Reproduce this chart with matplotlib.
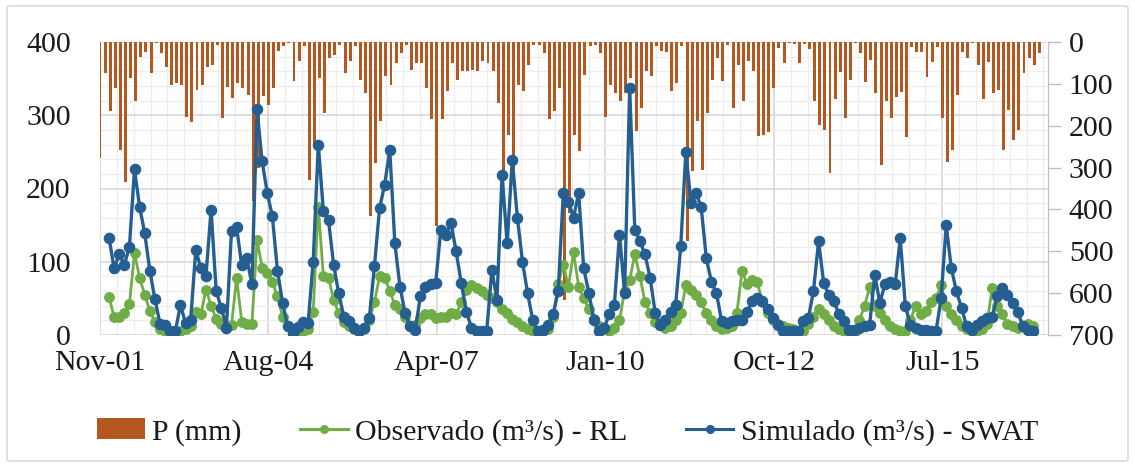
import matplotlib
matplotlib.use('Agg')
import matplotlib.pyplot as plt
import numpy as np
from matplotlib.patches import Rectangle, FancyBboxPatch
from matplotlib.lines import Line2D

plt.rcParams['font.family'] = ['Liberation Serif', 'DejaVu Serif']

# ---------------- data ----------------
x_labels = ['Nov-01', 'Aug-04', 'Apr-07', 'Jan-10', 'Oct-12', 'Jul-15']

sim = [133, 91, 110, 96, 120, 226, 175, 139, 88, 49,
       15, 13, 5, 5, 41, 16, 21, 116, 91, 81,
       171, 60, 37, 10, 142, 147, 95, 105, 69, 308,
       237, 194, 162, 88, 44, 12, 3, 11, 18, 16,
       100, 260, 169, 157, 96, 57, 25, 19, 10, 5,
       10, 23, 94, 173, 205, 253, 125, 66, 30, 12,
       7, 53, 66, 69, 71, 144, 137, 153, 114, 71,
       32, 10, 5, 5, 6, 89, 48, 219, 125, 239,
       160, 100, 57, 21, 5, 7, 14, 28, 60, 194,
       182, 160, 194, 91, 57, 21, 5, 10, 28, 41,
       137, 57, 337, 144, 128, 110, 78, 30, 14, 21,
       32, 41, 121, 250, 180, 194, 175, 105, 73, 57,
       19, 16, 19, 21, 21, 32, 46, 50, 46, 35,
       23, 14, 5, 5, 5, 5, 19, 23, 60, 128,
       71, 55, 46, 28, 19, 7, 7, 10, 12, 14,
       82, 44, 69, 73, 69, 132, 39, 14, 10, 7,
       7, 5, 5, 50, 150, 91, 60, 37, 12, 7,
       14, 19, 23, 25, 53, 64, 55, 44, 32, 12,
       7, 5]

obs = [52, 25, 24, 30, 42, 112, 78, 55, 33, 18,
       8, 5, 3, 2, 5, 8, 12, 32, 28, 62,
       40, 22, 15, 12, 14, 78, 18, 15, 15, 130,
       92, 84, 72, 53, 25, 12, 8, 6, 5, 8,
       32, 175, 80, 78, 48, 30, 18, 12, 8, 6,
       8, 20, 45, 80, 78, 60, 41, 35, 25, 12,
       14, 23, 28, 28, 23, 25, 25, 30, 28, 45,
       62, 68, 64, 60, 55, 50, 45, 35, 30, 22,
       18, 12, 8, 5, 3, 5, 8, 25, 70, 96,
       66, 113, 66, 50, 35, 22, 12, 8, 5, 10,
       20, 60, 75, 110, 80, 45, 30, 18, 13, 10,
       12, 20, 30, 68, 62, 55, 45, 30, 20, 12,
       8, 10, 12, 30, 87, 70, 75, 72, 45, 30,
       20, 15, 12, 10, 8, 5, 5, 15, 25, 35,
       28, 20, 12, 8, 5, 3, 2, 20, 40, 65,
       40, 30, 20, 12, 8, 5, 5, 20, 40, 28,
       33, 45, 50, 68, 40, 28, 20, 12, 8, 5,
       5, 8, 15, 64, 40, 28, 15, 12, 10, 12,
       15, 12]

precip = [278, 75, 166, 111, 258, 334, 87, 142, 35, 23,
          75, 3, 27, 59, 103, 99, 103, 178, 190, 115,
          103, 59, 55, 7, 182, 107, 134, 99, 110, 126,
          380, 300, 130, 150, 110, 22, 10, 3, 94, 46,
          10, 329, 245, 86, 170, 38, 30, 6, 74, 46,
          10, 90, 122, 416, 289, 189, 82, 102, 50, 26,
          6, 66, 50, 50, 110, 185, 440, 185, 118, 50,
          90, 70, 70, 66, 70, 46, 50, 70, 146, 305,
          221, 305, 102, 118, 54, 6, 6, 26, 185, 165,
          110, 616, 409, 221, 261, 78, 10, 6, 26, 178,
          102, 122, 142, 122, 86, 213, 158, 70, 82, 10,
          22, 25, 118, 98, 10, 476, 309, 189, 305, 170,
          90, 38, 94, 6, 158, 54, 142, 46, 70, 225,
          222, 214, 111, 15, 51, 3, 5, 51, 5, 17,
          142, 198, 210, 314, 135, 71, 182, 91, 3, 27,
          95, 43, 123, 294, 142, 182, 131, 119, 226, 11,
          23, 23, 83, 47, 11, 182, 286, 258, 127, 23,
          39, 3, 55, 135, 47, 123, 115, 258, 162, 234,
          210, 75, 39, 55, 27]

# ---------------- layout ----------------
W, H = 1135, 467
fig = plt.figure(figsize=(W / 100, H / 100), dpi=100)
rect = [100 / W, 1 - 335 / H, 948 / W, 293 / H]

x0 = -1.76                     # axis origin relative to first flow point
xlim = (x0, x0 + 185.7)
t = np.arange(len(sim))
bar_x = np.arange(len(precip)) + x0
major_x = x0 + 33 * np.arange(len(x_labels))
minor_x = x0 + 3.3 * np.arange(57)

FS = 21.5
TXT = '#1a1a1a'

# background grid axes
ax_bg = fig.add_axes(rect, zorder=0)
ax_bg.set_xlim(xlim)
ax_bg.set_ylim(0, 400)
ax_bg.set_xticks(major_x)
ax_bg.set_xticks(minor_x, minor=True)
ax_bg.set_yticks(np.arange(0, 401, 100))
ax_bg.set_yticks(np.arange(0, 401, 20), minor=True)
ax_bg.grid(which='minor', color='#EDEDED', lw=0.9)
ax_bg.grid(which='major', color='#D4D4D4', lw=1.1)
ax_bg.tick_params(which='both', length=0, labelleft=False, labelbottom=False)
for s in ax_bg.spines.values():
    s.set_visible(False)

# precipitation bars (right axis, inverted)
ax2 = fig.add_axes(rect, zorder=1)
ax2.patch.set_visible(False)
ax2.bar(bar_x, precip, width=0.58, color='#B5581F', edgecolor='none')
ax2.set_xlim(xlim)
ax2.set_ylim(700, 0)
ax2.yaxis.tick_right()
ax2.set_yticks(np.arange(0, 701, 100))
ax2.tick_params(axis='y', length=9, width=1, color='#BFBFBF', labelsize=FS,
                labelcolor=TXT, pad=6)
ax2.set_xticks([])
for k, s in ax2.spines.items():
    s.set_visible(k == 'right')
ax2.spines['right'].set_color('#BFBFBF')

# flow lines (left axis)
ax = fig.add_axes(rect, zorder=2)
ax.patch.set_visible(False)
ax.plot(t, obs, color='#70AD47', lw=2.0, marker='o', ms=6.8,
        mfc='#70AD47', mec='#70AD47')
ax.plot(t, sim, color='#255E91', lw=2.4, marker='o', ms=7.3,
        mfc='#255E91', mec='#255E91')
ax.set_xlim(xlim)
ax.set_ylim(0, 400)
ax.set_yticks(np.arange(0, 401, 100))
ax.set_xticks(major_x)
ax.set_xticklabels(x_labels)
ax.tick_params(axis='y', length=0, labelsize=FS, labelcolor=TXT, pad=21)
ax.tick_params(axis='x', length=0, labelsize=FS, labelcolor=TXT, pad=11)
for s in ax.spines.values():
    s.set_visible(False)

# legend
handles = [Rectangle((0, 0), 1, 1, facecolor='#B5581F', edgecolor='none'),
           Line2D([], [], color='#70AD47', lw=2.2, marker='o', ms=5.5),
           Line2D([], [], color='#255E91', lw=2.2, marker='o', ms=5.5)]
labels = ['P (mm)', 'Observado (m³/s) - RL', 'Simulado (m³/s) - SWAT']
fig.legend(handles, labels, loc='center', bbox_to_anchor=(0.5, 1 - 432 / H),
           ncol=3, frameon=False, fontsize=FS, handlelength=1.6,
           handletextpad=0.25, columnspacing=1.95, labelcolor=TXT)

# outer chart border
fig.patches.append(FancyBboxPatch((7 / W, 6 / H), 1121 / W, 455 / H,
                                  boxstyle='round,pad=0,rounding_size=0.004',
                                  transform=fig.transFigure, fill=False,
                                  edgecolor='#D9D9D9', lw=1.2))

fig.savefig('out.png', dpi=100)
